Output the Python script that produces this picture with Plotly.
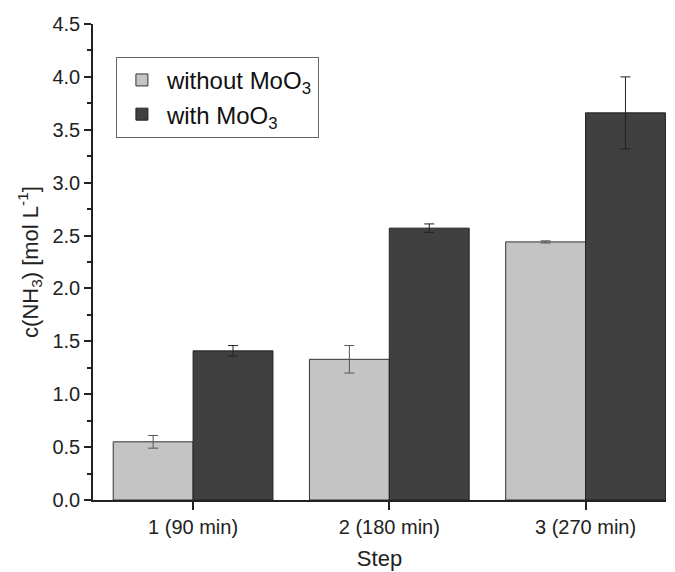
import plotly.graph_objects as go

categories = ["1 (90 min)", "2 (180 min)", "3 (270 min)"]
without_moo3 = [0.55, 1.33, 2.44]
without_err = [0.06, 0.13, 0.01]
with_moo3 = [1.41, 2.57, 3.66]
with_err = [0.05, 0.04, 0.34]

FONT = "Liberation Sans, Arial, sans-serif"

fig = go.Figure()
fig.add_trace(go.Bar(
    x=categories, y=without_moo3, name="without MoO<sub>3</sub>",
    marker=dict(color="#c4c4c4", line=dict(color="#333333", width=1)),
    error_y=dict(type="data", array=without_err, color="#555555", thickness=1, width=5),
))
fig.add_trace(go.Bar(
    x=categories, y=with_moo3, name="with MoO<sub>3</sub>",
    marker=dict(color="#404040", line=dict(color="#222222", width=1)),
    error_y=dict(type="data", array=with_err, color="#222222", thickness=1, width=5),
))

fig.update_layout(
    width=675, height=572,
    margin=dict(l=93, r=9, t=24, b=72),
    paper_bgcolor="white", plot_bgcolor="white",
    barmode="group", bargap=0.186, bargroupgap=0,
    font=dict(family=FONT, color="#222222", size=20),
    showlegend=True,
    legend=dict(
        x=0.04, y=0.931, xanchor="left", yanchor="top",
        bgcolor="white", bordercolor="#666666", borderwidth=1,
        font=dict(size=24, family=FONT, color="#111111"),
        traceorder="normal", itemwidth=40, tracegroupgap=0,
    ),
)
fig.update_xaxes(
    type="category", range=[-0.51, 2.41], automargin=False,
    showline=True, linecolor="#222222", linewidth=1.5,
    ticks="outside", ticklen=8, tickcolor="#222222", tickwidth=1.5,
    tickfont=dict(size=20, family=FONT),
    title=dict(text="Step", font=dict(size=22, family=FONT), standoff=14),
    showgrid=False, zeroline=False,
)
fig.update_yaxes(
    range=[0, 4.5], dtick=0.5, tickformat=".1f", automargin=False,
    showline=True, linecolor="#222222", linewidth=1.5,
    ticks="outside", ticklen=7, tickcolor="#222222", tickwidth=1.5,
    minor=dict(ticks="outside", ticklen=4, dtick=0.25, tickcolor="#222222", tickwidth=1.5),
    tickfont=dict(size=20, family=FONT),
    title=dict(text="c(NH<sub>3</sub>) [mol L<sup>-1</sup>]", font=dict(size=22, family=FONT), standoff=8),
    showgrid=False, zeroline=False,
)

fig.write_html("out.html")
